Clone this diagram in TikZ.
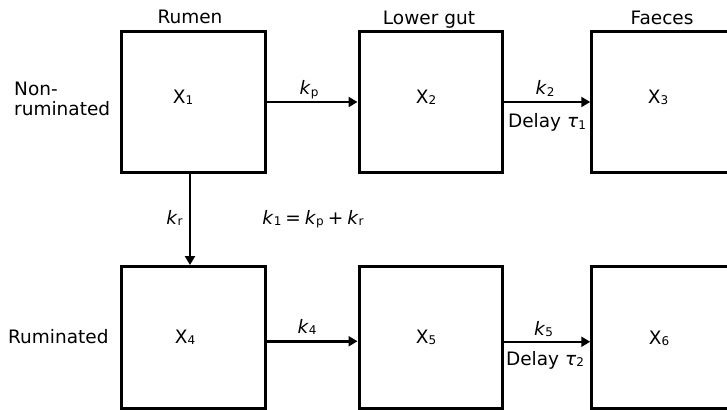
\documentclass[tikz,border=0pt]{standalone}
\usepackage{fontspec}
\setmainfont{DejaVu Sans}
\usetikzlibrary{arrows.meta}
% small subscript sitting close to the baseline
\newcommand\lsub[1]{\raisebox{-0.15ex}{\fontsize{12}{12}\selectfont #1}}
% rate constant: italic k with upright subscript
\newcommand\kk[1]{\textit{k}\lsub{#1}}
% gap around operators
\newcommand\opgap{\hspace{4pt}}

\begin{document}
\begin{tikzpicture}[x=1pt,y=-1pt,
  comp/.style={draw, line width=3pt, minimum width=143.5pt,
               minimum height=141.5pt, inner sep=0pt},
  flow/.style={line width=2.5pt, -{Triangle[length=9pt,width=10pt]}},
  txt/.style={font=\fontsize{18.5}{20}\selectfont, inner sep=0pt, anchor=base},
  lefttxt/.style={txt, anchor=base west}]

\useasboundingbox (0,0) rectangle (727,409);
\clip (0,0) rectangle (727,409);

% compartments
\node[comp] (b1) at (193.5,102) {};
\node[comp] (b2) at (430.75,102) {};
\node[comp] (b3) at (663.5,102) {};
\node[comp] (b4) at (193.5,337.25) {};
\node[comp] (b5) at (430.75,337.25) {};
\node[comp] (b6) at (663.5,337.25) {};

% compartment names
\node[txt] (x1) at (183,103) {X\lsub{1}};
\node[txt] (x2) at (426,103) {X\lsub{2}};
\node[txt] (x3) at (658,103) {X\lsub{3}};
\node[txt] (x4) at (185,343) {X\lsub{4}};
\node[txt] (x5) at (426,343) {X\lsub{5}};
\node[txt] (x6) at (659,344) {X\lsub{6}};

% column headings
\node[txt] (hrumen) at (190,24) {Rumen};
\node[txt] (hgut) at (429,25) {Lower gut};
\node[txt] (hfaeces) at (662,25) {Faeces};

% row headings
\node[lefttxt] (rowa1) at (14,95.7) {Non-};
\node[lefttxt] (rowa2) at (14,115) {ruminated};
\node[lefttxt] (rowb) at (8,343) {Ruminated};

% flows
\draw[flow] (b1.east) -- (b2.west);
\draw[flow] (b2.east) -- (b3.west);
\draw[flow] ([yshift=-4pt]b4.east) -- ([yshift=-4pt]b5.west);
\draw[flow] ([yshift=-4.5pt]b5.east) -- ([yshift=-4.5pt]b6.west);
\draw[flow] ([xshift=-3.5pt]b1.south) -- ([xshift=-3.5pt]b4.north);

% rate labels
\node[txt] (lkp) at (309,95) {\kk{p}};
\node[txt] (lk2) at (545,95) {\kk{2}};
\node[txt] (ld1) at (547,128) {Delay \textit{τ}\lsub{1}};
\node[txt] (lkr) at (174.5,224) {\kk{r}};
\node[txt] (leq) at (313,224) {\kk{1}\opgap=\opgap\kk{p}\opgap+\opgap\kk{r}};
\node[txt] (lk4) at (307,333) {\kk{4}};
\node[txt] (lk5) at (543.5,335) {\kk{5}};
\node[txt] (ld2) at (545,365) {Delay \textit{τ}\lsub{2}};
\end{tikzpicture}
\end{document}
